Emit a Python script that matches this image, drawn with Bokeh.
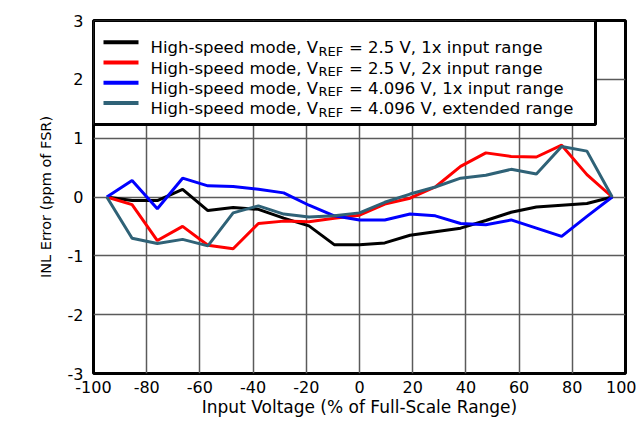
from bokeh.plotting import figure
from bokeh.models import Range1d, FixedTicker, BoxAnnotation, Label, Arrow
from bokeh.embed import file_html
from bokeh.resources import INLINE

# ---------------- data ----------------
x_pct = [-95, -85.5, -76, -66.5, -57, -47.5, -38, -28.5, -19, -9.5, 0,
         9.5, 19, 28.5, 38, 47.5, 57, 66.5, 76, 85.5, 95]

inl_25_1x = [0, -0.06, -0.06, 0.13, -0.23, -0.18, -0.21, -0.36, -0.49, -0.81, -0.81,
             -0.78, -0.65, -0.59, -0.53, -0.40, -0.26, -0.17, -0.14, -0.11, 0]
inl_25_2x = [0, -0.13, -0.74, -0.50, -0.82, -0.88, -0.45, -0.41, -0.42, -0.36, -0.31,
             -0.12, -0.02, 0.17, 0.52, 0.75, 0.69, 0.68, 0.88, 0.38, 0]
inl_4096_1x = [0, 0.28, -0.20, 0.32, 0.19, 0.18, 0.13, 0.07, -0.14, -0.32, -0.39,
               -0.39, -0.29, -0.32, -0.45, -0.47, -0.39, -0.53, -0.67, -0.33, 0]
inl_4096_ext = [0, -0.70, -0.79, -0.72, -0.83, -0.27, -0.15, -0.29, -0.34, -0.32, -0.27,
                -0.09, 0.05, 0.17, 0.32, 0.37, 0.47, 0.39, 0.86, 0.78, 0]

series_prefix = "High-speed mode, V"
series_sub = "REF"
series_suffix = ["= 2.5 V, 1x input range",
                 "= 2.5 V, 2x input range",
                 "= 4.096 V, 1x input range",
                 "= 4.096 V, extended range"]
series_colors = ["#000000", "#ff0000", "#0000ff", "#2f6277"]
series_values = [inl_25_1x, inl_25_2x, inl_4096_1x, inl_4096_ext]

x_ticks = [-100, -80, -60, -40, -20, 0, 20, 40, 60, 80, 100]
y_ticks = [-3, -2, -1, 0, 1, 2, 3]

# ---------------- layout (canvas pixels of the plot frame) ----------------
CW, CH = 636, 427
FL, FR, FT, FB = 93, 625, 20, 373

FONT = "DejaVu Sans"

p = figure(frame_width=FR - FL, frame_height=FB - FT,
           output_backend="svg", toolbar_location=None,
           x_range=Range1d(-100, 100), y_range=Range1d(-3, 3),
           min_border_left=FL, min_border_right=CW - FR,
           min_border_top=FT, min_border_bottom=CH - FB)

p.background_fill_color = "white"
p.border_fill_color = "white"
p.outline_line_color = "black"
p.outline_line_width = 3

p.xaxis.ticker = FixedTicker(ticks=x_ticks)
p.yaxis.ticker = FixedTicker(ticks=y_ticks)
p.xaxis.major_label_overrides = {t: str(t) for t in x_ticks}
p.yaxis.major_label_overrides = {t: str(t) for t in y_ticks}
for ax in (p.xaxis[0], p.yaxis[0]):
    ax.axis_line_color = None
    ax.major_tick_line_color = None
    ax.minor_tick_line_color = None
    ax.major_tick_out = 0
    ax.major_tick_in = 0
    ax.major_label_text_font = FONT
    ax.major_label_text_font_size = "16px"
    ax.major_label_text_color = "black"
    ax.axis_label_text_font = FONT
    ax.axis_label_text_font_style = "normal"
    ax.axis_label_text_color = "black"

p.xaxis.axis_label = "Input Voltage (% of Full-Scale Range)"
p.xaxis.axis_label_text_font_size = "17px"
p.xaxis.major_label_standoff = 7
p.xaxis.axis_label_standoff = 1

p.yaxis.axis_label = "INL Error (ppm of FSR)"
p.yaxis.axis_label_text_font_size = "14.5px"
p.yaxis.major_label_standoff = 10
p.yaxis.axis_label_standoff = 11

p.grid.grid_line_color = "#5a5a5a"
p.grid.grid_line_width = 1.5

for vals, col in zip(series_values, series_colors):
    p.line(x_pct, vals, line_color=col, line_width=3)


def dx(px):
    return -100 + (px - FL) / (FR - FL) * 200


def dy(py):
    return 3 - (py - FT) / (FB - FT) * 6


# ---------------- legend (manual, for the subscript) ----------------
p.add_layout(BoxAnnotation(left=-100, right=dx(595), top=3, bottom=dy(124),
                           fill_color="white", fill_alpha=1,
                           line_color="black", line_width=3, line_alpha=1))

text_size = 16.5
sub_size = 13
prefix_w = 10.155 * text_size
sub_w = 1.902 * sub_size
space_w = 0.318 * text_size
tx = 150
for i, (suf, col) in enumerate(zip(series_suffix, series_colors)):
    cy = 41.7 + 20.3 * i
    p.add_layout(Arrow(end=None, x_start=dx(103), x_end=dx(138),
                       y_start=dy(cy), y_end=dy(cy),
                       line_color=col, line_width=4))
    p.add_layout(Label(x=dx(tx), y=dy(cy + 5.5), text=series_prefix,
                       text_font=FONT, text_font_size=f"{text_size}px",
                       text_baseline="alphabetic", text_align="left", text_color="black"))
    p.add_layout(Label(x=dx(tx + prefix_w + 0.5), y=dy(cy + 9), text=series_sub,
                       text_font=FONT, text_font_size=f"{sub_size}px",
                       text_baseline="alphabetic", text_align="left", text_color="black"))
    p.add_layout(Label(x=dx(tx + prefix_w + sub_w + 1 + space_w), y=dy(cy + 5.5), text=suf,
                       text_font=FONT, text_font_size=f"{text_size}px",
                       text_baseline="alphabetic", text_align="left", text_color="black"))

open("out.html", "w").write(file_html(p, INLINE))
